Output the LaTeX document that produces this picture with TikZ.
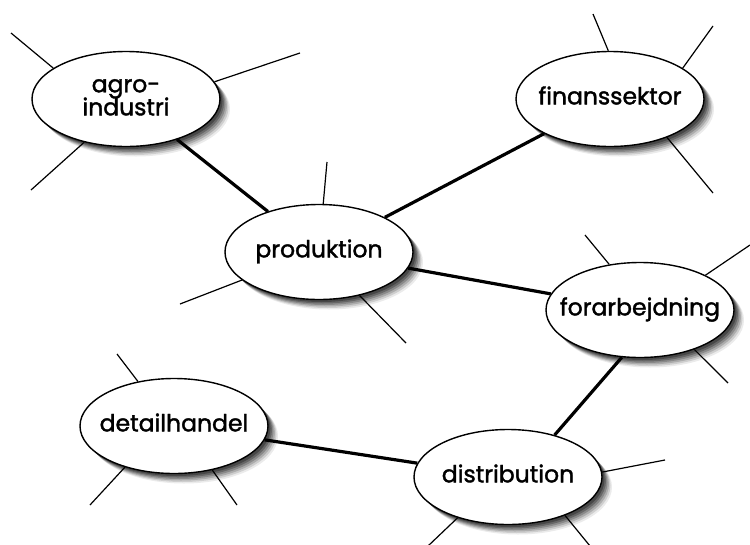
\documentclass[tikz,border=0pt]{standalone}
\usepackage{fontspec}
\setmainfont{Poppins}
\newfontfamily\bubfont{Poppins}[FakeBold=1.6]
\usetikzlibrary{shapes.geometric,shadows}
\newcommand{\zerowide}[1]{\makebox[0pt]{\begin{tabular}{@{}c@{}}#1\end{tabular}}}
\tikzset{
  softshadow/.style={
    drop shadow={shadow xshift=10pt,shadow yshift=-10pt,opacity=0.08,fill=black},
    drop shadow={shadow xshift=8.5pt,shadow yshift=-8.5pt,opacity=0.12,fill=black},
    drop shadow={shadow xshift=7pt,shadow yshift=-7pt,opacity=0.16,fill=black},
    drop shadow={shadow xshift=5.5pt,shadow yshift=-5.5pt,opacity=0.2,fill=black},
    drop shadow={shadow xshift=4pt,shadow yshift=-4pt,opacity=0.25,fill=black},
    drop shadow={shadow xshift=2.5pt,shadow yshift=-2.5pt,opacity=0.3,fill=black}},
  bub/.style={ellipse, draw=black, line width=1.4pt, fill=white,
    minimum width=188pt, minimum height=95pt, inner sep=0pt,
    font=\bubfont\fontsize{23.5}{24}\selectfont, softshadow},
  stub/.style={line width=1.2pt},
  link/.style={line width=3.2pt}
}
\begin{document}
\begin{tikzpicture}[x=1pt,y=-1pt]
\useasboundingbox[fill=white] (0,0) rectangle (750,544);
% nodes
\node[bub] (A) at (126,99) {\zerowide{agro-\\[-2pt]industri}};
\node[bub] (F) at (610,99) {\zerowide{finanssektor}};
\node[bub] (P) at (319,252) {\zerowide{produktion}};
\node[bub] (R) at (640,310) {\zerowide{forarbejdning}};
\node[bub] (D) at (508,477) {\zerowide{distribution}};
\node[bub] (H) at (174,426) {\zerowide{detailhandel}};
% free ends
\coordinate (a1) at (11,33);
\coordinate (a2) at (300,53);
\coordinate (a3) at (31,190);
\coordinate (f1) at (593,14);
\coordinate (f2) at (713,26);
\coordinate (f3) at (713,193);
\coordinate (p1) at (327,162);
\coordinate (p2) at (180,304);
\coordinate (p3) at (406,343);
\coordinate (r1) at (585,235);
\coordinate (r2) at (750,245);
\coordinate (r3) at (728,383);
\coordinate (d1) at (665,460);
\coordinate (d2) at (428,546);
\coordinate (d3) at (590,546);
\coordinate (h1) at (117,354);
\coordinate (h2) at (90,505);
\coordinate (h3) at (237,505);
% stubs
\draw[stub] (A.157) -- (a1);
\draw[stub] (A.11) -- (a2);
\draw[stub] (A.226) -- (a3);
\draw[stub] (F.92) -- (f1);
\draw[stub] (F.23) -- (f2);
\draw[stub] (F.-34) -- (f3);
\draw[stub] (P.85) -- (p1);
\draw[stub] (P.200) -- (p2);
\draw[stub] (P.-47) -- (p3);
\draw[stub] (R.124) -- (r1);
\draw[stub] (R.28) -- (r2);
\draw[stub] (R.-36) -- (r3);
\draw[stub] (D.3) -- (d1);
\draw[stub] (D.219) -- (d2);
\draw[stub] (D.-34) -- (d3);
\draw[stub] (H.129) -- (h1);
\draw[stub] (H.220) -- (h2);
\draw[stub] (H.-49) -- (h3);
% links
\draw[link] (A) -- (P);
\draw[link] (F) -- (P);
\draw[link] (P) -- (R);
\draw[link] (R.249) -- (D.42);
\draw[link] (H) -- (D);
\end{tikzpicture}
\end{document}
